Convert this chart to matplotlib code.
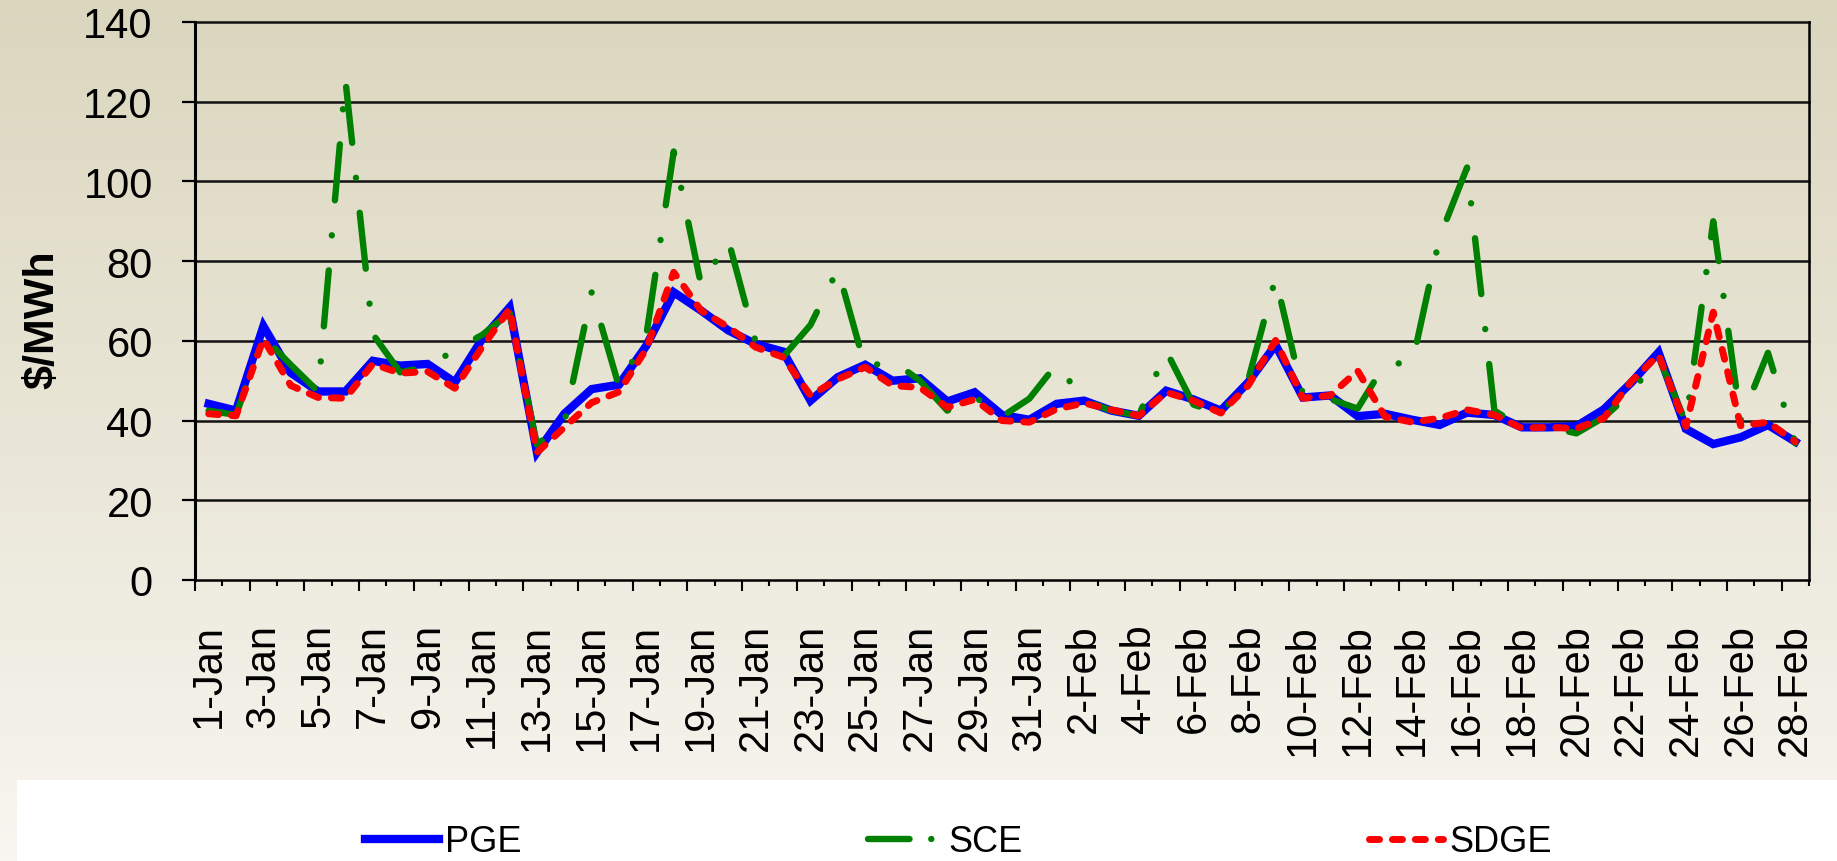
import numpy as np
import matplotlib
matplotlib.use('Agg')
import matplotlib.pyplot as plt
from matplotlib.lines import Line2D
from matplotlib.patches import Rectangle

plt.rcParams['font.family'] = ['Liberation Sans', 'DejaVu Sans']

days = ['1-Jan', '2-Jan', '3-Jan', '4-Jan', '5-Jan', '6-Jan', '7-Jan', '8-Jan', '9-Jan', '10-Jan',
        '11-Jan', '12-Jan', '13-Jan', '14-Jan', '15-Jan', '16-Jan', '17-Jan', '18-Jan', '19-Jan', '20-Jan',
        '21-Jan', '22-Jan', '23-Jan', '24-Jan', '25-Jan', '26-Jan', '27-Jan', '28-Jan', '29-Jan', '30-Jan',
        '31-Jan', '1-Feb', '2-Feb', '3-Feb', '4-Feb', '5-Feb', '6-Feb', '7-Feb', '8-Feb', '9-Feb',
        '10-Feb', '11-Feb', '12-Feb', '13-Feb', '14-Feb', '15-Feb', '16-Feb', '17-Feb', '18-Feb', '19-Feb',
        '20-Feb', '21-Feb', '22-Feb', '23-Feb', '24-Feb', '25-Feb', '26-Feb', '27-Feb', '28-Feb']

pge = [44.2, 42.5, 63.7, 52.0, 47.3, 47.3, 55.0, 53.8, 54.2, 49.6,
       60.5, 68.4, 32.0, 41.7, 47.9, 49.0, 58.8, 72.2, 67.6, 62.6,
       59.2, 57.3, 45.0, 50.9, 54.0, 50.0, 50.6, 44.8, 47.1, 41.4,
       40.2, 44.2, 45.0, 42.5, 41.2, 47.5, 45.3, 42.5, 49.6, 59.0,
       45.8, 46.3, 41.1, 41.7, 40.2, 38.9, 42.0, 41.4, 38.3, 38.3,
       38.6, 42.8, 49.5, 57.1, 37.9, 34.1, 35.8, 38.9, 34.7]

sce = [42.5, 41.4, 61.0, 54.0, 47.3, 125.3, 61.7, 52.1, 53.5, 57.7,
       61.5, 67.0, 34.0, 39.5, 72.2, 48.5, 61.5, 107.5, 74.0, 85.2,
       59.6, 56.0, 64.0, 78.0, 53.4, 55.0, 50.0, 42.5, 46.0, 41.0,
       45.5, 54.2, 45.0, 42.5, 41.2, 57.5, 44.0, 41.7, 50.2, 75.8,
       46.5, 45.4, 43.0, 54.2, 54.5, 86.0, 103.5, 42.5, 38.3, 38.3,
       36.8, 40.8, 47.0, 56.0, 39.5, 90.0, 40.0, 57.0, 34.3]

sdge = [41.7, 41.2, 60.5, 48.8, 45.8, 45.6, 54.2, 51.9, 52.3, 48.1,
        58.5, 68.0, 32.0, 38.3, 44.5, 47.2, 58.0, 77.2, 67.6, 63.4,
        58.4, 55.9, 46.3, 50.4, 53.4, 48.8, 48.3, 43.3, 45.3, 40.0,
        39.6, 42.9, 44.4, 42.7, 41.2, 47.1, 45.0, 41.9, 48.8, 60.1,
        45.6, 46.3, 52.5, 41.0, 39.6, 40.6, 42.7, 41.4, 38.1, 38.3,
        38.0, 40.6, 49.8, 56.5, 38.5, 67.2, 38.7, 39.6, 34.7]

yticks = [0, 20, 40, 60, 80, 100, 120, 140]
series = ['PGE', 'SCE', 'SDGE']

W, H = 1837, 862
fig = plt.figure(figsize=(W / 100, H / 100), dpi=100)

# background gradient (tan at top to off-white at bottom)
bg = fig.add_axes([0, 0, 1, 1], zorder=-10)
t = np.linspace(0, 1, 256)[:, None, None]
top = np.array([219, 214, 190]) / 255
bot = np.array([247, 246, 240]) / 255
bg.imshow(top + (bot - top) * t, aspect='auto', extent=[0, 1, 0, 1])
bg.axis('off')
fig.add_artist(Rectangle((17 / W, 0), 1, 81 / H, transform=fig.transFigure,
                         facecolor='white', edgecolor='none', zorder=-5))

ax = fig.add_axes([195 / W, 1 - 581 / H, 1614 / W, 558 / H])
ax.set_facecolor('none')
x = np.arange(len(days))
ax.plot(x, pge, color='#0000FF', lw=6.0, solid_joinstyle='miter', zorder=3)
ax.plot(x, sce, color='#008000', lw=4.6, ls=(0, (8.8, 5.5, 0.01, 5.5)),
        dash_capstyle='round', dash_joinstyle='round', zorder=4)
ax.plot(x, sdge, color='#FF0000', lw=5.0, ls=(0, (1.45, 1.85)),
        dash_capstyle='round', dash_joinstyle='round', zorder=5)

ax.set_xlim(-0.5, len(days) - 0.5)
ax.set_ylim(0, 140)
ax.set_yticks(yticks)
ax.tick_params(axis='y', direction='out', length=9.4, width=1.6, pad=21, labelsize=30)
for yv in yticks[1:]:
    ax.axhline(yv, color='#111111', lw=1.8, zorder=1, clip_on=False)
ax.spines['top'].set_visible(False)
ax.spines['left'].set_linewidth(2.2)
ax.spines['right'].set_linewidth(1.8)
ax.spines['bottom'].set_linewidth(1.8)

ax.set_xticks(np.arange(-0.5, len(days), 2))
ax.set_xticks(np.arange(0.5, len(days), 2), minor=True)
ax.tick_params(axis='x', which='major', direction='out', length=8, width=1.5, labelbottom=False)
ax.tick_params(axis='x', which='minor', direction='out', length=4.5, width=1.5, labelbottom=False)

sec = ax.secondary_xaxis('bottom')
sec.set_xticks(x[::2], labels=days[::2])
sec.tick_params(length=0, pad=31, labelsize=30, labelrotation=90)
sec.spines['bottom'].set_visible(False)

ax.set_ylabel(r'\$/MWh', fontsize=31, fontweight='bold')
ax.yaxis.label.set(ha='center', va='center', rotation_mode='default')
ax.yaxis.set_label_coords((42 - 195) / 1614, (581 - 320) / 558)

handles = [Line2D([], [], color='#0000FF', lw=6.0),
           Line2D([], [], color='#008000', lw=4.6, ls=(0, (6.5, 3.4, 0.01, 10)), dash_capstyle='round'),
           Line2D([], [], color='#FF0000', lw=5.0, ls=(0, (1.45, 1.85)), dash_capstyle='round')]
fig.legend(handles, series, loc='center left', bbox_to_anchor=(365 / W, 1 - 843 / H), ncol=3,
           frameon=False, fontsize=26, handlelength=2.05, handletextpad=0.17,
           columnspacing=9.6, borderpad=0, borderaxespad=0)

fig.savefig('out.png', dpi=100)
